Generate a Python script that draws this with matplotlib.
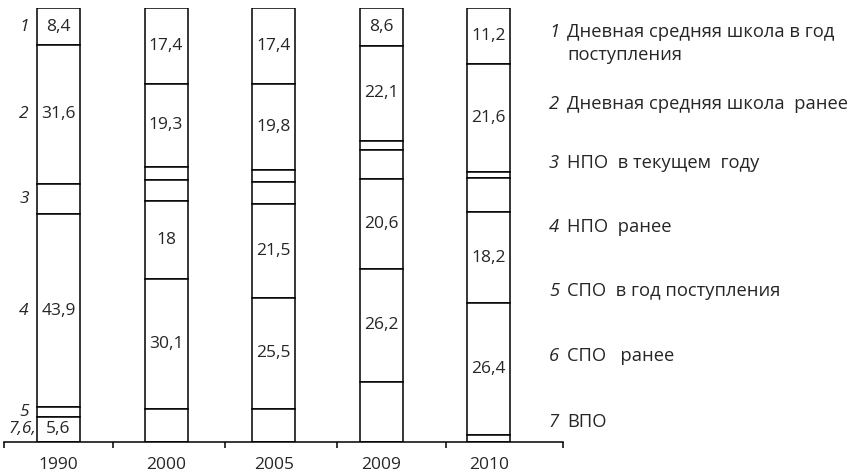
import numpy as np
import matplotlib.pyplot as plt

plt.rcParams['font.family'] = ['Open Sans', 'DejaVu Sans']

years = ['1990', '2000', '2005', '2009', '2010']
# shares by category 1..7 (top to bottom in every bar)
v1990 = [8.4, 31.6, 7.0, 43.9, 2.3, 5.6, 0.0]
v2000 = [17.4, 19.3, 2.9, 4.8, 18.0, 30.1, 7.5]
v2005 = [17.4, 19.8, 2.8, 5.2, 21.5, 25.5, 7.6]
v2009 = [8.6, 22.1, 2.0, 6.8, 20.6, 26.2, 13.7]
v2010 = [11.2, 21.6, 1.2, 7.0, 18.2, 26.4, 1.4]
# which segments carry a value label
show1990 = [1, 1, 0, 1, 0, 1, 0]
show2000 = [1, 1, 0, 0, 1, 1, 0]
show2005 = [1, 1, 0, 0, 1, 1, 0]
show2009 = [1, 1, 0, 0, 1, 1, 0]
show2010 = [1, 1, 0, 0, 1, 1, 0]
side_labels = ['1', '2', '3', '4', '5', '7,6,', '']
legend_items = [
    ('1', ['Дневная средняя школа в год', 'поступления']),
    ('2', ['Дневная средняя школа  ранее']),
    ('3', ['НПО  в текущем  году']),
    ('4', ['НПО  ранее']),
    ('5', ['СПО  в год поступления']),
    ('6', ['СПО   ранее']),
    ('7', ['ВПО']),
]

values = [v1990, v2000, v2005, v2009, v2010]
shows = [show1990, show2000, show2005, show2009, show2010]

W, H = 854, 472
fig = plt.figure(figsize=(W / 100, H / 100), dpi=100)
ax = fig.add_axes([4 / W, 1 - 441.5 / H, (563 - 4) / W, (441.5 - 8.3) / H])

txt_col = '#262626'
fs = 12.5
for i, (vals, show) in enumerate(zip(values, shows)):
    vals = np.array(vals)
    pct = vals / vals.sum() * 100
    tops = 100 - np.concatenate([[0], np.cumsum(pct)[:-1]])
    for k in range(len(vals)):
        if pct[k] <= 0:
            continue
        ax.bar(i, pct[k], bottom=tops[k] - pct[k], width=0.4,
               color='white', edgecolor='black', linewidth=1.1)
        if show[k]:
            lab = f'{vals[k]:g}'.replace('.', ',')
            ax.text(i, tops[k] - pct[k] / 2, lab, ha='center', va='center',
                    fontsize=fs, color=txt_col)
        if i == 0 and side_labels[k]:
            xo = -0.205 if ',' in side_labels[k] else -0.275
            ax.text(xo, tops[k] - pct[k] / 2, side_labels[k], ha='right',
                    va='center', fontsize=fs, style='italic', color=txt_col)

ax.set_xlim(-0.5065, 4.689)
ax.set_ylim(0, 100)
for s in ['top', 'right', 'left']:
    ax.spines[s].set_visible(False)
ax.spines['bottom'].set_linewidth(1.1)
ax.set_yticks([])
ax.set_xticks(range(len(years)))
ax.set_xticklabels(years, fontsize=fs, color=txt_col)
ax.tick_params(axis='x', which='major', length=0, pad=11)
ax.set_xticks([-0.5065, 0.506, 1.547, 2.588, 3.601, 4.689], minor=True)
ax.tick_params(axis='x', which='minor', length=4, width=1.1, direction='out')

# legend on the right
leg_fs = 13.2
leg_base = [37, 109, 168, 232, 296, 361, 427]
for (num, lines), yb in zip(legend_items, leg_base):
    fig.text(559 / W, 1 - yb / H, num, ha='right', va='baseline',
             fontsize=leg_fs, style='italic', color=txt_col)
    for j, line in enumerate(lines):
        fig.text(567 / W, 1 - (yb + 23 * j) / H, line, ha='left',
                 va='baseline', fontsize=leg_fs, color=txt_col)

fig.savefig('out.png', dpi=100)
